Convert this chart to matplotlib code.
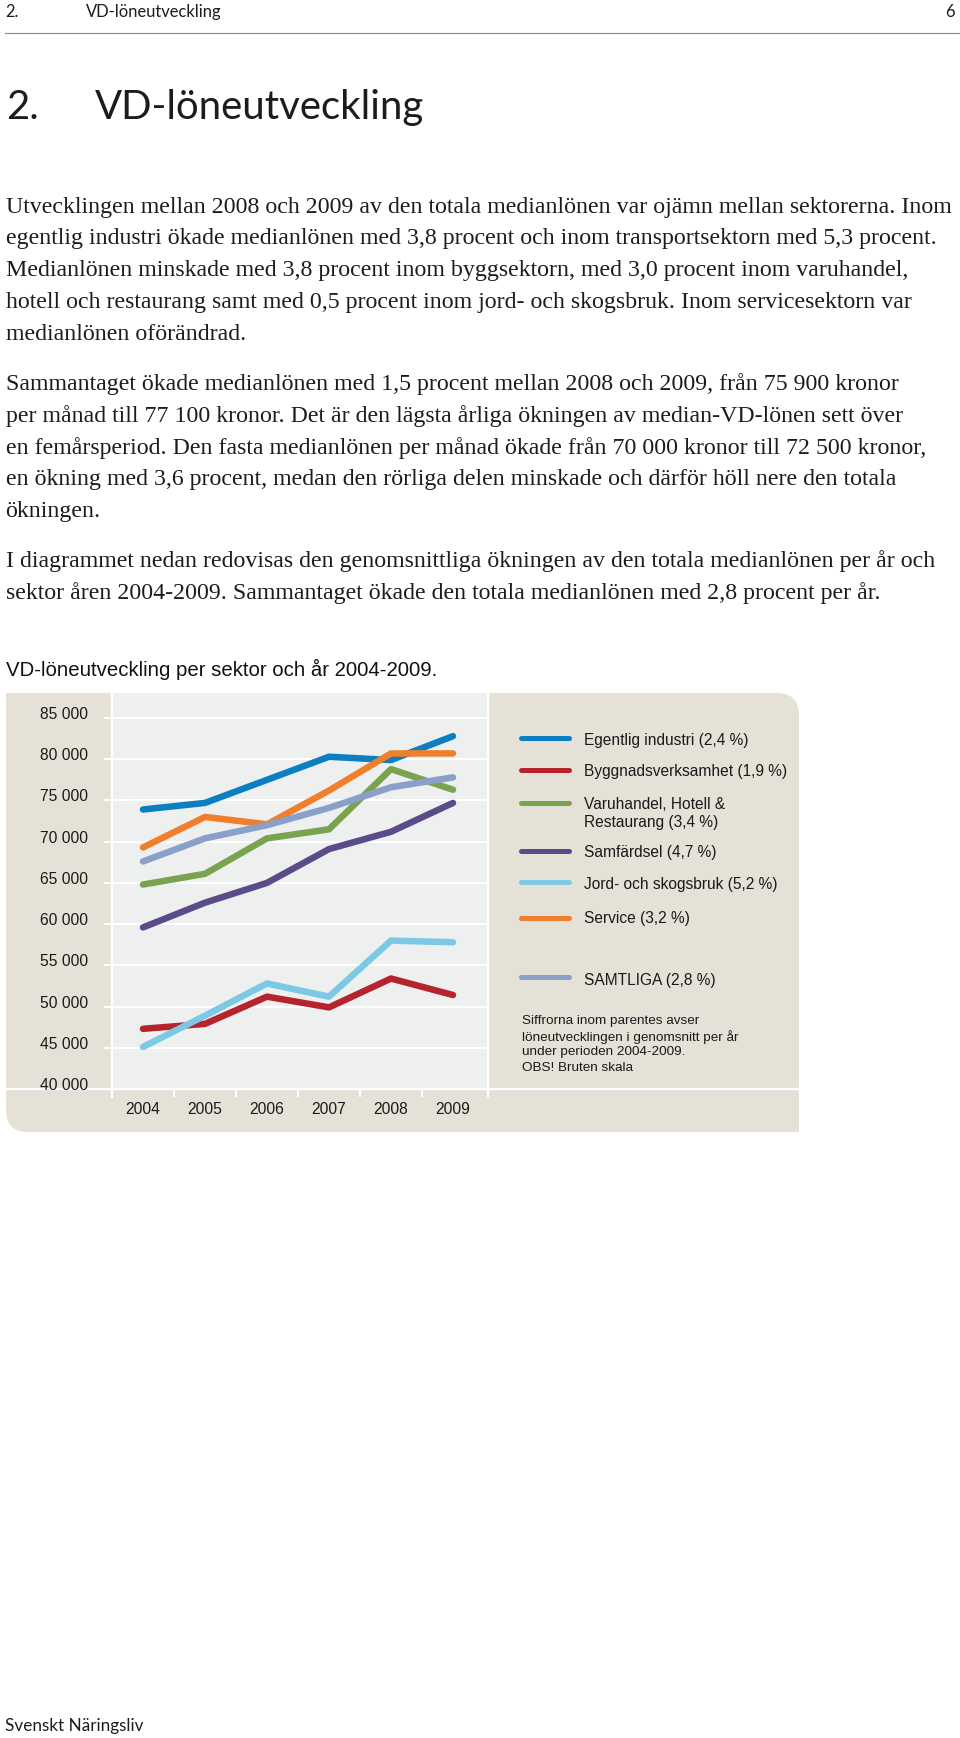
import matplotlib
matplotlib.use("Agg")
import numpy as np
import matplotlib.pyplot as plt
from matplotlib.patches import FancyBboxPatch, Rectangle
from matplotlib.transforms import ScaledTranslation

# ---------------- data ----------------
years = ["2004", "2005", "2006", "2007", "2008", "2009"]
egentlig_industri = [73900, 74700, 77500, 80300, 79900, 82800]
byggnadsverksamhet = [47300, 47900, 51200, 49900, 53400, 51400]
varuhandel = [64800, 66100, 70400, 71500, 78800, 76300]
samfardsel = [59600, 62600, 65000, 69100, 71200, 74700]
jord_skog = [45100, 48900, 52800, 51200, 58000, 57800]
service = [69300, 73000, 72100, 76200, 80700, 80700]
samtliga = [67600, 70400, 72000, 74100, 76600, 77800]

series_values = [egentlig_industri, byggnadsverksamhet, varuhandel, samfardsel,
                 jord_skog, service, samtliga]
series_labels = ["Egentlig industri (2,4 %)", "Byggnadsverksamhet (1,9 %)",
                 "Varuhandel, Hotell &\nRestaurang (3,4 %)", "Samfärdsel (4,7 %)",
                 "Jord- och skogsbruk (5,2 %)", "Service (3,2 %)", "SAMTLIGA (2,8 %)"]
series_colors = ["#0b7fc1", "#b5242c", "#7aa34f", "#5b4b89", "#7cc9e6", "#ef7f2c", "#8aa0c8"]

y_ticks = [40000, 45000, 50000, 55000, 60000, 65000, 70000, 75000, 80000, 85000]

para1 = ["Utvecklingen mellan 2008 och 2009 av den totala medianlönen var ojämn mellan sektorerna. Inom",
         "egentlig industri ökade medianlönen med 3,8 procent och inom transportsektorn med 5,3 procent.",
         "Medianlönen minskade med 3,8 procent inom byggsektorn, med 3,0 procent inom varuhandel,",
         "hotell och restaurang samt med 0,5 procent inom jord- och skogsbruk. Inom servicesektorn var",
         "medianlönen oförändrad."]
para2 = ["Sammantaget ökade medianlönen med 1,5 procent mellan 2008 och 2009, från 75 900 kronor",
         "per månad till 77 100 kronor. Det är den lägsta årliga ökningen av median-VD-lönen sett över",
         "en femårsperiod. Den fasta medianlönen per månad ökade från 70 000 kronor till 72 500 kronor,",
         "en ökning med 3,6 procent, medan den rörliga delen minskade och därför höll nere den totala",
         "ökningen."]
para3 = ["I diagrammet nedan redovisas den genomsnittliga ökningen av den totala medianlönen per år och",
         "sektor åren 2004-2009. Sammantaget ökade den totala medianlönen med 2,8 procent per år."]
caption = "VD-löneutveckling per sektor och år 2004-2009."
note_lines = ["Siffrorna inom parentes avser", "löneutvecklingen i genomsnitt per år",
              "under perioden 2004-2009.", "OBS! Bruten skala"]

# ---------------- figure ----------------
W, H = 960, 1738
DPI = 100
fig = plt.figure(figsize=(W / DPI, H / DPI), dpi=DPI)
bg = fig.add_axes([0, 0, 1, 1])
bg.set_xlim(0, W)
bg.set_ylim(H, 0)
bg.axis("off")
renderer = fig.canvas.get_renderer()

SERIF = ["Liberation Serif", "DejaVu Serif"]
SANS = ["Liberation Sans", "DejaVu Sans"]
HUM = ["Lato", "DejaVu Sans"]
TXT = "#1c1c1c"


def fit_size(s, width, **kw):
    t = bg.text(0, 0, s, fontsize=20, **kw)
    w = t.get_window_extent(renderer).width
    t.remove()
    return 20 * width / w


# header
hsz = fit_size("VD-löneutveckling", 136, family=HUM)
bg.text(5, 16.7, "2.", fontsize=hsz, family=HUM, color=TXT, va="baseline")
bg.text(86, 16.7, "VD-löneutveckling", fontsize=hsz, family=HUM, color=TXT, va="baseline")
bg.text(955, 16.7, "6", fontsize=hsz, family=HUM, color=TXT, va="baseline", ha="right")
bg.plot([5, 960], [33.3, 33.3], color="#8a8a8a", lw=0.8)

# title
tsz = fit_size("VD-löneutveckling", 330, family=HUM)
bg.text(6, 119, "2.", fontsize=tsz, family=HUM, color=TXT, va="baseline")
bg.text(95, 119, "VD-löneutveckling", fontsize=tsz, family=HUM, color=TXT, va="baseline")

# body text
bsz = fit_size(para1[0], 946, family=SERIF)
LS = 31.8
for lines, y0 in ((para1, 212.5), (para2, 390.0), (para3, 567.5)):
    for i, s in enumerate(lines):
        bg.text(5.5, y0 + i * LS, s, fontsize=bsz, family=SERIF, color=TXT, va="baseline")

# caption
csz = fit_size(caption, 430, family=SANS)
bg.text(5.5, 676, caption, fontsize=csz, family=SANS, color="#111111", va="baseline")

# footer
fsz = fit_size("Svenskt Näringsliv", 139, family=HUM)
bg.text(5, 1731, "Svenskt Näringsliv", fontsize=fsz, family=HUM, color=TXT, va="baseline")

# ---------------- chart panel ----------------
TAN = "#e5e1d7"
GRAY = "#eeefef"
PL, PR, PT, PB = 6, 799, 693, 1132
bg.add_patch(FancyBboxPatch((PL, PT), PR - PL, PB - PT,
                            boxstyle="round,pad=0,rounding_size=22", fc=TAN, ec="none"))
bg.add_patch(Rectangle((PL, PT), 30, 30, fc=TAN, ec="none"))
bg.add_patch(Rectangle((PR - 30, PB - 30), 30, 30, fc=TAN, ec="none"))
bg.add_patch(Rectangle((112, PT), 376, 1089 - PT, fc=GRAY, ec="none"))
bg.plot([PL, PR], [1089, 1089], color="white", lw=1.6)
bg.plot([112, 112], [PT, 1097], color="white", lw=1.6)
bg.plot([488, 488], [PT, 1096], color="white", lw=1.6)

# plot axes
AX_L, AX_R, AX_T, AX_B = 112, 484, 718, 1089
ax = fig.add_axes([AX_L / W, 1 - AX_B / H, (AX_R - AX_L) / W, (AX_B - AX_T) / H])
ax.patch.set_visible(False)
for sp in ax.spines.values():
    sp.set_visible(False)
ax.set_xlim(-0.5, 5.5)
ax.set_ylim(40000, 85000)

tick_sz = fit_size("85 000", 48, family=SANS)
ax.set_yticks(y_ticks)
ax.set_yticklabels([f"{v:,}".replace(",", " ") for v in y_ticks], family=SANS)
ax.tick_params(axis="y", direction="out", length=5.76, width=1.44, color="white",
               pad=11.5, labelsize=tick_sz, labelcolor="#1a1a1a")
for v in y_ticks:
    ax.axhline(v, xmin=0, xmax=(488 - AX_L) / (AX_R - AX_L), color="white", lw=1.5,
               clip_on=False, zorder=1)

ax.set_xticks(range(len(years)))
ax.set_xticklabels(years, family=SANS)
ax.set_xticks(np.arange(-0.5, len(years) - 0.5, 1), minor=True)
ax.tick_params(axis="x", which="major", length=0, pad=9.5, labelsize=tick_sz,
               labelcolor="#1a1a1a")
ax.tick_params(axis="x", which="minor", direction="out", length=5.76, width=1.44,
               color="white")

for i, (vals, col) in enumerate(zip(series_values, series_colors)):
    ax.plot(range(len(years)), vals, color=col, lw=4.7, solid_capstyle="round",
            solid_joinstyle="round", zorder=3 + i)

fig.canvas.draw()
for t in ax.yaxis.get_major_ticks():
    t.label1.set_transform(t.label1.get_transform() +
                           ScaledTranslation(0, 5 / DPI, fig.dpi_scale_trans))

# ---------------- legend ----------------
leg_line_y = [738.3, 770, 803.3, 850.7, 882.3, 918.3, 977.3]
leg_text_y = [740, 771.7, 813.4, 853, 884, 918.3, 980.7]
lsz = fit_size("Byggnadsverksamhet (1,9 %)", 204, family=SANS)
for ly, ty, lab, col in zip(leg_line_y, leg_text_y, series_labels, series_colors):
    bg.plot([521, 569], [ly, ly], color=col, lw=3.6, solid_capstyle="round")
    bg.text(584, ty, lab, fontsize=lsz, family=SANS, color="#1a1a1a", va="center",
            linespacing=1.2)

nsz = fit_size(note_lines[1], 215, family=SANS)
for i, s in enumerate(note_lines):
    bg.text(521.7, 1020.7 + i * 15.9, s, fontsize=nsz, family=SANS, color="#1a1a1a",
            va="center")

fig.savefig("out.png", dpi=DPI)
